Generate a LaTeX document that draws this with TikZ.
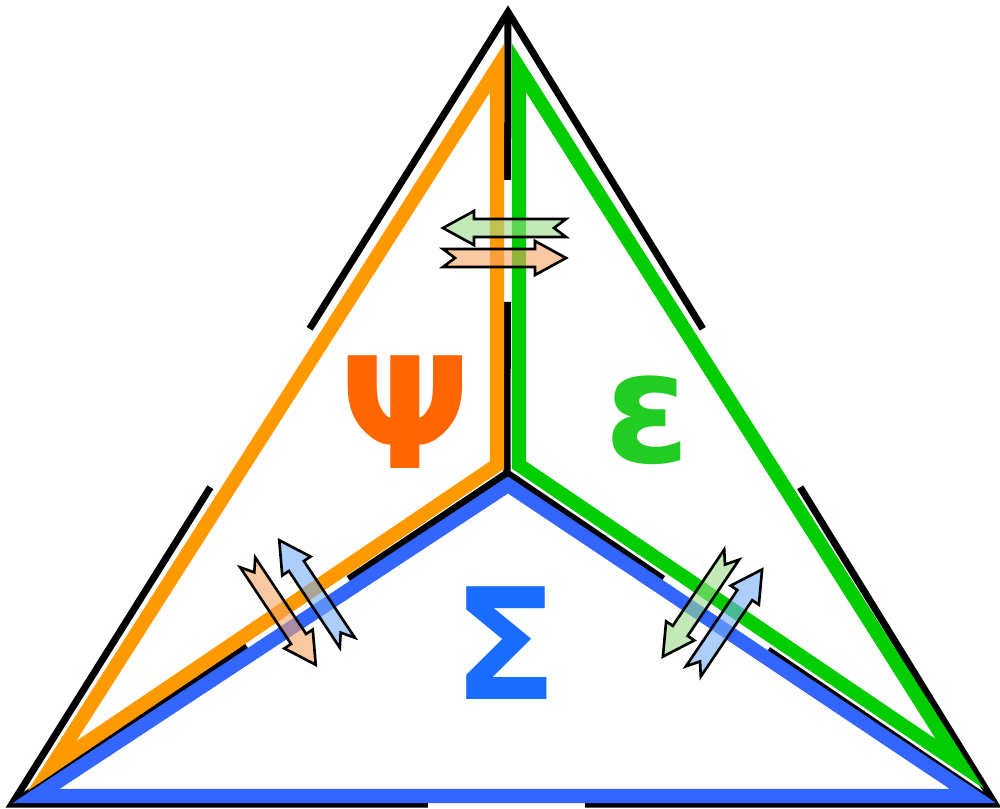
\documentclass[tikz,border=0pt]{standalone}
\usepackage{fontspec}
\newfontfamily\greekfont{DejaVu Sans}
\usetikzlibrary{calc}
\definecolor{oran}{RGB}{255,153,0}
\definecolor{gree}{RGB}{0,204,0}
\definecolor{blu}{RGB}{51,102,255}
\definecolor{psicol}{RGB}{255,102,0}
\definecolor{epscol}{RGB}{34,204,34}
\definecolor{sigcol}{RGB}{26,108,255}
\definecolor{afgreen}{RGB}{155,219,137}
\definecolor{afpeach}{RGB}{246,164,100}
\definecolor{afblue}{RGB}{119,173,246}
\begin{document}
\begin{tikzpicture}[x=0.01cm,y=-0.01cm,
  blk/.style={line width=2pt, draw=black, line join=miter},
  tri/.style={line width=4pt, line join=miter},
  fatarr/.pic={\path[pic actions] (-62,9) -- (30,9) -- (30,17) -- (61,0) -- (30,-17) -- (30,-9) -- (-62,-9) -- (-50,0) -- cycle;},
  arr/.style={draw=black, line width=0.75pt, fill opacity=0.6, line join=miter},
  sym/.style={font=\greekfont\bfseries\fontsize{44}{44}\selectfont}
]
\useasboundingbox (0,0) rectangle (1000,808);
% outer vertices and centre
\coordinate (T) at (508,12);
\coordinate (L) at (12,804);
\coordinate (R) at (995,804);
\coordinate (C) at (507,473);
% black frame with gaps
\draw[blk] ($(T)!0.40!(L)$) -- (T) -- ($(T)!0.40!(R)$);
\draw[blk] ($(T)!0.60!(L)$) -- (L) -- ($(L)!0.423!(R)$);
\draw[blk] ($(L)!0.583!(R)$) -- (R) -- ($(T)!0.60!(R)$);
\draw[blk] (T) -- ($(T)!0.364!(C)$);
\draw[blk] ($(T)!0.629!(C)$) -- (C) -- ($(C)!0.32!(L)$);
\draw[blk] (C) -- ($(C)!0.32!(R)$);
\draw[blk] ($(C)!0.525!(L)$) -- (L);
\draw[blk] ($(C)!0.535!(R)$) -- (R);
% coloured inner triangles
\coordinate (B1) at (36,796);
\coordinate (B2) at (508,485);
\coordinate (B3) at (973,796);
\coordinate (O1) at (497,68);
\coordinate (O2) at (52,766);
\coordinate (O3) at (497,465);
\coordinate (G1) at (519,68);
\coordinate (G2) at (519,465);
\coordinate (G3) at (960,764);
\draw[tri, blu] (B1) -- (B2) -- (B3) -- cycle;
\draw[tri, oran] (O1) -- (O2) -- (O3) -- cycle;
\draw[tri, gree] (G1) -- (G2) -- (G3) -- cycle;
% labels
\node[sym, text=psicol] (psi) at (405,412) {Ψ};
\node[sym, text=epscol] (eps) at (648,420) {ε};
\node[sym, text=sigcol] (sig) at (505,643) {Σ};
% exchange arrows
\pic[arr, fill=afgreen, rotate=180] at (504,228) {fatarr};
\pic[arr, fill=afpeach] at (505,258) {fatarr};
\pic[arr, fill=afpeach, rotate=-56.4] at (282,614) {fatarr};
\pic[arr, fill=afblue, rotate=123.6] at (313,591) {fatarr};
\pic[arr, fill=afgreen, rotate=-124] at (697,606) {fatarr};
\pic[arr, fill=afblue, rotate=56] at (728,620) {fatarr};
\end{tikzpicture}
\end{document}
